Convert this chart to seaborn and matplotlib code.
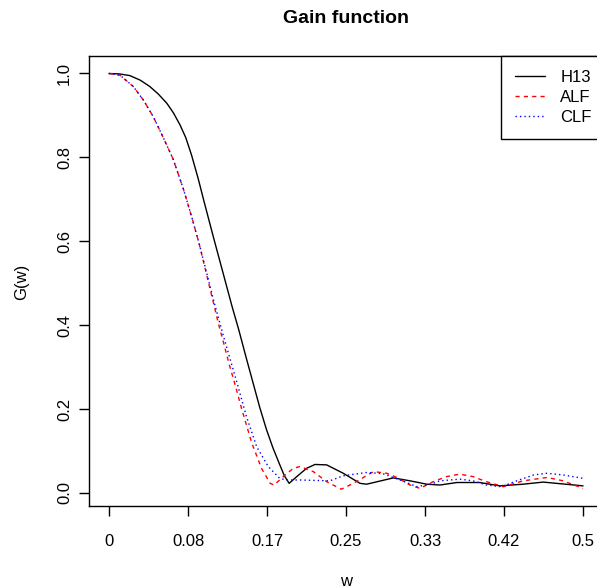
import numpy as np
import pandas as pd
import matplotlib
matplotlib.use("Agg")
import matplotlib.pyplot as plt
import seaborn as sns

# Values
h13_w = [0, 0.011, 0.022, 0.033, 0.043, 0.052, 0.061, 0.068, 0.075, 0.081,
         0.087, 0.094, 0.100, 0.110, 0.120, 0.130, 0.137, 0.145, 0.152, 0.159,
         0.166, 0.173, 0.180, 0.185, 0.190, 0.198, 0.2085, 0.2173, 0.2296,
         0.2471, 0.2648, 0.2718, 0.2999, 0.3175, 0.3351, 0.349, 0.367, 0.391,
         0.412, 0.437, 0.458, 0.472, 0.5]
h13_g = [1.0, 0.999, 0.995, 0.984, 0.969, 0.951, 0.929, 0.906, 0.877, 0.847,
         0.806, 0.750, 0.697, 0.611, 0.527, 0.443, 0.388, 0.320, 0.262, 0.204,
         0.152, 0.107, 0.068, 0.041, 0.023, 0.039, 0.059, 0.068, 0.067,
         0.047, 0.023, 0.021, 0.036, 0.029, 0.021, 0.019, 0.025, 0.025,
         0.017, 0.021, 0.026, 0.023, 0.017]

alf_w = [0, 0.0116, 0.0256, 0.0362, 0.0467, 0.0573, 0.0678, 0.0784, 0.087, 0.095,
         0.103, 0.110, 0.1153, 0.1206, 0.127, 0.134, 0.140, 0.1505, 0.161, 0.170,
         0.174, 0.1839, 0.1944, 0.2015, 0.2155, 0.2296, 0.245, 0.2577, 0.279,
         0.293, 0.3035, 0.3175, 0.328, 0.342, 0.356, 0.370, 0.384, 0.398, 0.416,
         0.437, 0.462, 0.479, 0.5]
alf_g = [1.0, 0.996, 0.969, 0.937, 0.897, 0.847, 0.795, 0.725, 0.66, 0.595,
         0.52, 0.455, 0.405, 0.36, 0.305, 0.25, 0.20, 0.12, 0.058, 0.023,
         0.019, 0.039, 0.059, 0.063, 0.051, 0.027, 0.009, 0.023, 0.051,
         0.047, 0.037, 0.019, 0.011, 0.027, 0.039, 0.045, 0.039, 0.027, 0.015,
         0.029, 0.037, 0.029, 0.011]

clf_w = [0, 0.0116, 0.0256, 0.0362, 0.0467, 0.0573, 0.0678, 0.0784, 0.087, 0.095,
         0.103, 0.110, 0.1206, 0.1347, 0.145, 0.1558, 0.168, 0.180, 0.187, 0.2015,
         0.233, 0.247, 0.272, 0.289, 0.307, 0.325, 0.342, 0.349, 0.370, 0.384,
         0.398, 0.414, 0.430, 0.448, 0.462, 0.479, 0.5]
clf_g = [1.0, 0.996, 0.969, 0.937, 0.897, 0.847, 0.795, 0.725, 0.66, 0.595,
         0.525, 0.462, 0.375, 0.265, 0.182, 0.11, 0.063, 0.035, 0.031, 0.031,
         0.029, 0.041, 0.049, 0.046, 0.031, 0.015, 0.023, 0.029, 0.033, 0.029,
         0.019, 0.015, 0.029, 0.043, 0.047, 0.043, 0.035]

x_ticks = [k / 12 for k in range(7)]
x_labels = ["0", "0.08", "0.17", "0.25", "0.33", "0.42", "0.5"]
y_ticks = [0.0, 0.2, 0.4, 0.6, 0.8, 1.0]
y_labels = ["0.0", "0.2", "0.4", "0.6", "0.8", "1.0"]

sns.set_theme(style="white")
plt.rcParams["font.family"] = ["Liberation Sans", "DejaVu Sans"]
plt.rcParams["font.size"] = 12
plt.rcParams["text.color"] = "black"

W, H = 597, 588
fig = plt.figure(figsize=(W / 100, H / 100), dpi=100)
ax = fig.add_axes([89 / W, (H - 506) / H, (602 - 89) / W, (506 - 56) / H])

series = [
    ("H13", h13_w, h13_g, "black", "-"),
    ("ALF", alf_w, alf_g, "#FF0000", (0, (3, 3))),
    ("CLF", clf_w, clf_g, "#0000FF", (0, (1, 2.2))),
]
for name, w, g, col, ls in series:
    df = pd.DataFrame({"w": w, "G": g})
    sns.lineplot(data=df, x="w", y="G", ax=ax, color=col, linestyle=ls,
                 linewidth=1.0, label=name, estimator=None, sort=False)

ax.set_xlim(-0.0211, 0.520)
ax.set_ylim(-0.031, 1.0417)
ax.set_xticks(x_ticks)
ax.set_xticklabels(x_labels)
ax.set_yticks(y_ticks)
ax.set_yticklabels(y_labels, rotation=90, va="center")
ax.tick_params(axis="both", direction="out", length=7.2, width=1.0,
               color="black", labelsize=12, labelcolor="black",
               bottom=True, left=True)
ax.tick_params(axis="x", pad=13)
ax.tick_params(axis="y", pad=5)
for sp in ax.spines.values():
    sp.set_visible(True)
    sp.set_color("black")
    sp.set_linewidth(1.0)
ax.set_xlabel("")
ax.set_ylabel("")

leg = ax.legend(loc="upper right", bbox_to_anchor=(1 + 4 / 513, 1),
                borderaxespad=0, frameon=True, fancybox=False, framealpha=1,
                edgecolor="black", fontsize=12, handlelength=1.8,
                handletextpad=0.9, labelspacing=0.3, borderpad=0.85)
leg.get_frame().set_linewidth(1.0)

fig.text(346 / W, 1 - 23 / H, "Gain function", ha="center", va="baseline",
         fontsize=14, fontweight="bold")
fig.text(346 / W, 1 - 586 / H, "w", ha="center", va="baseline", fontsize=12)
fig.text(22 / W, 1 - 282 / H, "G(w)", ha="center", va="center",
         rotation=90, fontsize=12)

fig.savefig("out.png", dpi=100, facecolor="white")
